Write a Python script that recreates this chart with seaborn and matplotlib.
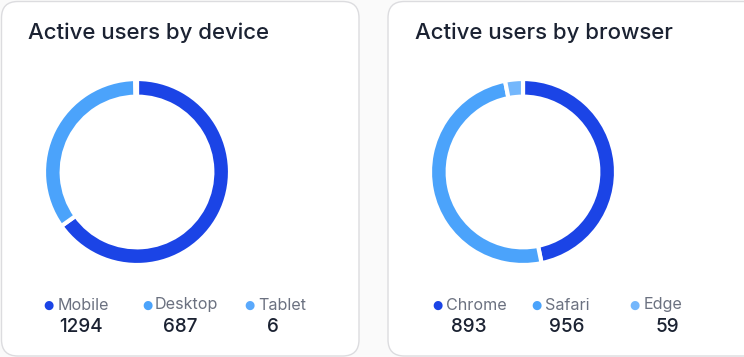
import matplotlib
matplotlib.use("Agg")
import matplotlib.pyplot as plt
from matplotlib.patches import FancyBboxPatch
import seaborn as sns

sns.set_theme(style="white")
plt.rcParams['font.family'] = ['Inter', 'DejaVu Sans']

# ---- data ----
device_labels = ["Mobile", "Desktop", "Tablet"]
device_values = [1294, 687, 6]
device_colors = ["#1b44e6", "#4ba3fb", "#5aa9fc"]

browser_labels = ["Chrome", "Safari", "Edge"]
browser_values = [893, 956, 59]
browser_colors = ["#1b44e6", "#4ba3fb", "#74b7fc"]

titles = ["Active users by device", "Active users by browser"]

W, H = 744, 357
fig = plt.figure(figsize=(W / 100, H / 100), dpi=100)
fig.patch.set_facecolor("#fafafa")


def px(x, y):
    return x / W, 1 - y / H


# cards
for x0, x1 in [(1.5, 359), (388, 760)]:
    card = FancyBboxPatch((x0 / W, 1 / H), (x1 - x0) / W, (H - 2.5) / H,
                          boxstyle="round,pad=0,rounding_size=0.022",
                          transform=fig.transFigure, facecolor="white",
                          edgecolor="#dcdcdf", linewidth=1.0, zorder=-5,
                          mutation_aspect=W / H)
    fig.patches.append(card)

cards = [
    dict(title_x=28, cx=137, labels=device_labels, values=device_values, colors=device_colors,
         dot_x=[48, 147, 249], lab_x=[58, 155, 258], val_x=[81, 180, 273]),
    dict(title_x=415, cx=523, labels=browser_labels, values=browser_values, colors=browser_colors,
         dot_x=[437, 536, 634], lab_x=[446, 545, 644], val_x=[469, 567, 667]),
]

R = 93
cy = 172
for i, c in enumerate(cards):
    tx, ty = px(c["title_x"], 33)
    fig.text(tx, ty, titles[i], fontsize=16, fontweight="medium", color="#1b2232",
             va="center", ha="left")

    ax = fig.add_axes([(c["cx"] - R) / W, (H - cy - R) / H, 2 * R / W, 2 * R / H])
    ax.set_zorder(2)
    ax.pie(c["values"], colors=c["colors"], startangle=90, counterclock=False,
           radius=1.0,
           wedgeprops=dict(width=0.19, edgecolor="white", linewidth=3.0, joinstyle="round"))
    ax.set_xlim(-1.0, 1.0)
    ax.set_ylim(-1.0, 1.0)
    ax.set_aspect("equal")
    ax.axis("off")

    for j in range(3):
        dx, dy = px(c["dot_x"][j], 305)
        fig.text(dx, dy, "●", fontsize=8.5, color=c["colors"][j], ha="center", va="center",
                 family=["DejaVu Sans"])
        lx, ly = px(c["lab_x"][j], 305)
        fig.text(lx, ly, c["labels"][j], fontsize=11.6, color="#6b7180", ha="left", va="center")
        vx, vy = px(c["val_x"][j], 327)
        fig.text(vx, vy, str(c["values"][j]), fontsize=13.6, fontweight="medium",
                 color="#1b2232", ha="center", va="center")

fig.savefig("out.png", dpi=100, facecolor=fig.get_facecolor())
